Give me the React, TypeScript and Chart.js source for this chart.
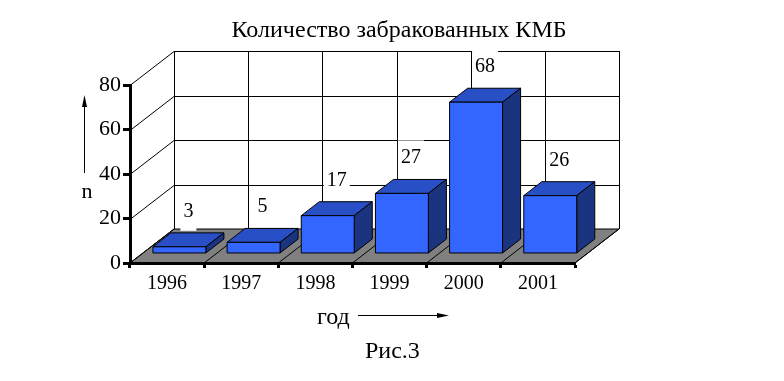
import React, { useEffect, useRef } from "react";
import { Chart, registerables } from "chart.js";

Chart.register(...registerables);

// ---- data ----
const TITLE = "Количество забракованных КМБ";
const YEARS = ["1996", "1997", "1998", "1999", "2000", "2001"];
const COUNTS = [3, 5, 17, 27, 68, 26];
const Y_MIN = 0;
const Y_MAX = 80;
const Y_STEP = 20;
const Y_NAME = "n";
const X_NAME = "год";
const CAPTION = "Рис.3";

// ---- style ----
const FONT = '"Liberation Serif", "Times New Roman", serif';
const FRONT = "#3366FF";
const TOP = "#284FC6";
const SIDE = "#1B3480";
const FLOOR = "#808080";
const DX = 44; // depth of the 3D box
const DY = -34;
const BAR_FRONT = 0.28; // bar front plane as a fraction of depth
const BAR_DEPTH = 0.41; // bar depth as a fraction of depth
const LABEL_GAP = 30;

function boundaries(chart: any): number[] {
  const xs = chart.scales.x;
  const p0 = xs.getPixelForValue(0);
  const cw = xs.getPixelForValue(1) - p0;
  const out: number[] = [];
  for (let i = 0; i <= YEARS.length; i++) out.push(p0 - cw / 2 + i * cw);
  return out;
}

const threeD = {
  id: "threeD",
  beforeDraw(chart: any) {
    const { ctx, chartArea: a, scales } = chart;
    const ys = scales.y;
    const { left, right, top, bottom } = a;
    ctx.save();
    ctx.fillStyle = "#ffffff";
    ctx.fillRect(0, 0, chart.width, chart.height);
    // walls
    ctx.beginPath();
    ctx.moveTo(left, top);
    ctx.lineTo(left + DX, top + DY);
    ctx.lineTo(right + DX, top + DY);
    ctx.lineTo(right + DX, bottom + DY);
    ctx.lineTo(left, bottom);
    ctx.closePath();
    ctx.fillStyle = "#ffffff";
    ctx.fill();
    ctx.strokeStyle = "#000";
    ctx.lineWidth = 1;
    // horizontal gridlines on back wall + diagonals on the side wall
    for (let v = Y_MIN; v <= Y_MAX; v += Y_STEP) {
      const y = Math.round(ys.getPixelForValue(v)) + 0.5;
      ctx.beginPath();
      ctx.moveTo(left, y);
      ctx.lineTo(left + DX, y + DY);
      ctx.lineTo(right + DX, y + DY);
      ctx.stroke();
    }
    // vertical gridlines on back wall
    const bs = boundaries(chart);
    for (const b of bs) {
      const x = Math.round(b + DX) + 0.5;
      ctx.beginPath();
      ctx.moveTo(x, top + DY);
      ctx.lineTo(x, bottom + DY);
      ctx.stroke();
    }
    // floor
    ctx.beginPath();
    ctx.moveTo(left, bottom);
    ctx.lineTo(right, bottom);
    ctx.lineTo(right + DX, bottom + DY);
    ctx.lineTo(left + DX, bottom + DY);
    ctx.closePath();
    ctx.fillStyle = FLOOR;
    ctx.fill();
    ctx.stroke();
    for (const b of bs) {
      ctx.beginPath();
      ctx.moveTo(b, bottom);
      ctx.lineTo(b + DX, bottom + DY);
      ctx.stroke();
    }
    ctx.restore();
  },
  afterDatasetsDraw(chart: any) {
    const { ctx } = chart;
    const meta = chart.getDatasetMeta(0);
    const fx = BAR_FRONT * DX;
    const fy = BAR_FRONT * DY;
    const bdx = BAR_DEPTH * DX;
    const bdy = BAR_DEPTH * DY;
    ctx.save();
    ctx.lineWidth = 1;
    ctx.strokeStyle = "#000";
    ctx.lineJoin = "miter";
    const tops: { cx: number; y: number; v: number }[] = [];
    meta.data.forEach((el: any, i: number) => {
      const p = el.getProps(["x", "y", "base", "width"], true);
      const x0 = p.x - p.width / 2 + fx;
      const x1 = x0 + p.width;
      const yt = p.y + fy;
      const yb = p.base + fy;
      // top
      ctx.beginPath();
      ctx.moveTo(x0, yt);
      ctx.lineTo(x0 + bdx, yt + bdy);
      ctx.lineTo(x1 + bdx, yt + bdy);
      ctx.lineTo(x1, yt);
      ctx.closePath();
      ctx.fillStyle = TOP;
      ctx.fill();
      ctx.stroke();
      // side
      ctx.beginPath();
      ctx.moveTo(x1, yt);
      ctx.lineTo(x1 + bdx, yt + bdy);
      ctx.lineTo(x1 + bdx, yb + bdy);
      ctx.lineTo(x1, yb);
      ctx.closePath();
      ctx.fillStyle = SIDE;
      ctx.fill();
      ctx.stroke();
      // front
      ctx.beginPath();
      ctx.rect(x0, yt, p.width, yb - yt);
      ctx.fillStyle = FRONT;
      ctx.fill();
      ctx.stroke();
      tops.push({ cx: x0 + p.width / 2 + bdx / 2, y: yt, v: COUNTS[i] });
    });
    // value labels with white boxes
    ctx.font = `20px ${FONT}`;
    ctx.textAlign = "center";
    ctx.textBaseline = "alphabetic";
    for (const t of tops) {
      const s = String(t.v);
      const tw = ctx.measureText(s).width;
      const base = t.y - LABEL_GAP;
      ctx.fillStyle = "#fff";
      ctx.fillRect(t.cx - tw / 2 - 3, base - 23, tw + 6, 37);
      ctx.fillStyle = "#000";
      ctx.fillText(s, t.cx, base);
    }
    ctx.restore();
  },
  afterDraw(chart: any) {
    const { ctx } = chart;
    ctx.save();
    ctx.fillStyle = "#000";
    ctx.strokeStyle = "#000";
    ctx.textBaseline = "alphabetic";
    // title
    ctx.font = `24px ${FONT}`;
    ctx.textAlign = "center";
    ctx.fillText(TITLE, 399, 37);
    // y name and arrow
    ctx.font = `22px ${FONT}`;
    ctx.fillText(Y_NAME, 87, 198);
    ctx.lineWidth = 1;
    ctx.beginPath();
    ctx.moveTo(84.5, 173);
    ctx.lineTo(84.5, 104);
    ctx.stroke();
    ctx.beginPath();
    ctx.moveTo(84.5, 95);
    ctx.lineTo(87, 107);
    ctx.lineTo(82, 107);
    ctx.closePath();
    ctx.fill();
    // x name and arrow
    ctx.font = `24px ${FONT}`;
    ctx.textAlign = "left";
    ctx.fillText(X_NAME, 317, 324);
    ctx.beginPath();
    ctx.moveTo(358, 315.5);
    ctx.lineTo(440, 315.5);
    ctx.stroke();
    ctx.beginPath();
    ctx.moveTo(449, 315.5);
    ctx.lineTo(437, 313);
    ctx.lineTo(437, 318);
    ctx.closePath();
    ctx.fill();
    // caption
    ctx.fillText(CAPTION, 365, 358);
    ctx.restore();
  },
};

export default function App() {
  const ref = useRef<HTMLCanvasElement | null>(null);
  useEffect(() => {
    if (!ref.current) return;
    Chart.defaults.font.family = FONT;
    Chart.defaults.color = "#000";
    const chart = new Chart(ref.current, {
      type: "bar",
      data: {
        labels: YEARS,
        datasets: [
          {
            data: COUNTS,
            backgroundColor: "rgba(0,0,0,0)",
            borderWidth: 0,
            barPercentage: 0.714,
            categoryPercentage: 1,
          },
        ],
      },
      plugins: [threeD],
      options: {
        animation: false,
        responsive: true,
        maintainAspectRatio: false,
        devicePixelRatio: 1,
        layout: { padding: { left: 0, right: 209, top: 85, bottom: 88 } },
        plugins: { legend: { display: false }, tooltip: { enabled: false }, title: { display: false } },
        scales: {
          x: {
            grid: {
              drawOnChartArea: false,
              offset: true,
              tickLength: 5,
              tickWidth: 3,
              tickColor: "#000",
            },
            border: { display: true, color: "#000", width: 3 },
            ticks: { font: { size: 20, family: FONT }, color: "#000", padding: 4, maxRotation: 0 },
            afterFit: (s: any) => {
              s.height = 30;
            },
          },
          y: {
            min: Y_MIN,
            max: Y_MAX,
            ticks: { stepSize: Y_STEP, font: { size: 22, family: FONT }, color: "#000", padding: 2 },
            grid: {
              drawOnChartArea: false,
              tickLength: 7,
              tickWidth: 3,
              tickColor: "#000",
            },
            border: { display: true, color: "#000", width: 3 },
            afterFit: (s: any) => {
              s.width = 130;
            },
          },
        },
      },
    });
    return () => chart.destroy();
  }, []);
  return (
    <div style={{ position: "fixed", left: 0, top: 0, width: 784, height: 381, background: "#fff" }}>
      <canvas ref={ref} />
    </div>
  );
}
